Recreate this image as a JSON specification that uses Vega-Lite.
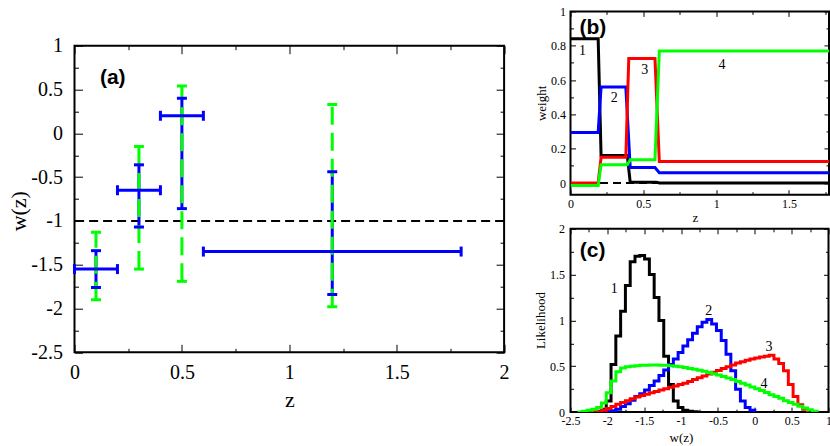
{
  "$schema": "https://vega.github.io/schema/vega-lite/v6.json",
  "background": "white",
  "padding": {"left": 6.5, "top": 4, "right": 0, "bottom": 0},
  "config": {
    "view": {"stroke": "black", "strokeWidth": 2},
    "axis": {
      "domain": false, "grid": false, "ticks": true,
      "tickColor": "black", "tickWidth": 1,
      "labelColor": "black", "titleColor": "black",
      "labelFont": "Liberation Serif", "titleFont": "Liberation Serif",
      "titleFontWeight": "normal", "labelFlush": false, "labelOverlap": false
    }
  },
  "datasets": {
    "errs": [
      {"z": 0.1, "zlo": 0, "zhi": 0.2, "w": -1.55, "blo": -1.76, "bhi": -1.34, "glo": -1.9, "ghi": -1.13},
      {"z": 0.3, "zlo": 0.2, "zhi": 0.4, "w": -0.65, "blo": -1.07, "bhi": -0.36, "glo": -1.55, "ghi": -0.15},
      {"z": 0.5, "zlo": 0.4, "zhi": 0.6, "w": 0.2, "blo": -0.86, "bhi": 0.4, "glo": -1.69, "ghi": 0.54},
      {"z": 1.2, "zlo": 0.6, "zhi": 1.8, "w": -1.35, "blo": -1.84, "bhi": -0.44, "glo": -1.98, "ghi": 0.33}
    ],
    "weights": [
      {"curve": "1", "z": 0, "weight": 0.84}, {"curve": "1", "z": 0.19, "weight": 0.84},
      {"curve": "1", "z": 0.21, "weight": 0.16}, {"curve": "1", "z": 0.39, "weight": 0.16},
      {"curve": "1", "z": 0.41, "weight": 0.005}, {"curve": "1", "z": 0.59, "weight": 0.005},
      {"curve": "1", "z": 0.61, "weight": 0}, {"curve": "1", "z": 1.8, "weight": 0},
      {"curve": "2", "z": 0, "weight": 0.295}, {"curve": "2", "z": 0.19, "weight": 0.295},
      {"curve": "2", "z": 0.21, "weight": 0.56}, {"curve": "2", "z": 0.38, "weight": 0.56},
      {"curve": "2", "z": 0.41, "weight": 0.09}, {"curve": "2", "z": 0.58, "weight": 0.09},
      {"curve": "2", "z": 0.61, "weight": 0.06}, {"curve": "2", "z": 1.8, "weight": 0.06},
      {"curve": "3", "z": 0, "weight": 0}, {"curve": "3", "z": 0.19, "weight": 0},
      {"curve": "3", "z": 0.21, "weight": 0.15}, {"curve": "3", "z": 0.38, "weight": 0.15},
      {"curve": "3", "z": 0.4, "weight": 0.725}, {"curve": "3", "z": 0.58, "weight": 0.725},
      {"curve": "3", "z": 0.61, "weight": 0.125}, {"curve": "3", "z": 1.8, "weight": 0.125},
      {"curve": "4", "z": 0, "weight": -0.015}, {"curve": "4", "z": 0.19, "weight": -0.015},
      {"curve": "4", "z": 0.21, "weight": 0.107}, {"curve": "4", "z": 0.39, "weight": 0.107},
      {"curve": "4", "z": 0.41, "weight": 0.135}, {"curve": "4", "z": 0.58, "weight": 0.135},
      {"curve": "4", "z": 0.61, "weight": 0.77}, {"curve": "4", "z": 1.8, "weight": 0.77}
    ],
    "hist": [
      {"curve": "1", "w": -2.21, "L": 0}, {"curve": "1", "w": -2.145, "L": 0.01}, {"curve": "1", "w": -2.08, "L": 0.03},
      {"curve": "1", "w": -2.015, "L": 0.12}, {"curve": "1", "w": -1.95, "L": 0.52}, {"curve": "1", "w": -1.885, "L": 0.83},
      {"curve": "1", "w": -1.82, "L": 1.1}, {"curve": "1", "w": -1.755, "L": 1.38}, {"curve": "1", "w": -1.69, "L": 1.64},
      {"curve": "1", "w": -1.625, "L": 1.7}, {"curve": "1", "w": -1.56, "L": 1.71}, {"curve": "1", "w": -1.495, "L": 1.67},
      {"curve": "1", "w": -1.43, "L": 1.5}, {"curve": "1", "w": -1.365, "L": 1.25}, {"curve": "1", "w": -1.3, "L": 1.0},
      {"curve": "1", "w": -1.235, "L": 0.61}, {"curve": "1", "w": -1.17, "L": 0.3}, {"curve": "1", "w": -1.105, "L": 0.12},
      {"curve": "1", "w": -1.04, "L": 0.05}, {"curve": "1", "w": -0.975, "L": 0.02}, {"curve": "1", "w": -0.91, "L": 0.01},
      {"curve": "1", "w": -0.845, "L": 0.005}, {"curve": "1", "w": -0.78, "L": 0},
      {"curve": "2", "w": -2.08, "L": 0}, {"curve": "2", "w": -2.015, "L": 0.005}, {"curve": "2", "w": -1.95, "L": 0.015},
      {"curve": "2", "w": -1.885, "L": 0.03}, {"curve": "2", "w": -1.82, "L": 0.06}, {"curve": "2", "w": -1.755, "L": 0.09},
      {"curve": "2", "w": -1.69, "L": 0.13}, {"curve": "2", "w": -1.625, "L": 0.17}, {"curve": "2", "w": -1.56, "L": 0.2},
      {"curve": "2", "w": -1.495, "L": 0.24}, {"curve": "2", "w": -1.43, "L": 0.29}, {"curve": "2", "w": -1.365, "L": 0.34},
      {"curve": "2", "w": -1.3, "L": 0.4}, {"curve": "2", "w": -1.235, "L": 0.46}, {"curve": "2", "w": -1.17, "L": 0.52},
      {"curve": "2", "w": -1.105, "L": 0.58}, {"curve": "2", "w": -1.04, "L": 0.65}, {"curve": "2", "w": -0.975, "L": 0.72},
      {"curve": "2", "w": -0.91, "L": 0.79}, {"curve": "2", "w": -0.845, "L": 0.86}, {"curve": "2", "w": -0.78, "L": 0.93},
      {"curve": "2", "w": -0.715, "L": 0.98}, {"curve": "2", "w": -0.65, "L": 1.01}, {"curve": "2", "w": -0.585, "L": 0.96},
      {"curve": "2", "w": -0.52, "L": 0.89}, {"curve": "2", "w": -0.455, "L": 0.78}, {"curve": "2", "w": -0.39, "L": 0.63},
      {"curve": "2", "w": -0.325, "L": 0.45}, {"curve": "2", "w": -0.26, "L": 0.25}, {"curve": "2", "w": -0.195, "L": 0.12},
      {"curve": "2", "w": -0.13, "L": 0.05}, {"curve": "2", "w": -0.065, "L": 0.02}, {"curve": "2", "w": 0, "L": 0},
      {"curve": "3", "w": -2.21, "L": 0}, {"curve": "3", "w": -2.145, "L": 0.005}, {"curve": "3", "w": -2.08, "L": 0.02},
      {"curve": "3", "w": -2.015, "L": 0.04}, {"curve": "3", "w": -1.95, "L": 0.06}, {"curve": "3", "w": -1.885, "L": 0.085},
      {"curve": "3", "w": -1.82, "L": 0.105}, {"curve": "3", "w": -1.755, "L": 0.125}, {"curve": "3", "w": -1.69, "L": 0.145},
      {"curve": "3", "w": -1.625, "L": 0.165}, {"curve": "3", "w": -1.56, "L": 0.18}, {"curve": "3", "w": -1.495, "L": 0.195},
      {"curve": "3", "w": -1.43, "L": 0.21}, {"curve": "3", "w": -1.365, "L": 0.225}, {"curve": "3", "w": -1.3, "L": 0.24},
      {"curve": "3", "w": -1.235, "L": 0.255}, {"curve": "3", "w": -1.17, "L": 0.27}, {"curve": "3", "w": -1.105, "L": 0.285},
      {"curve": "3", "w": -1.04, "L": 0.3}, {"curve": "3", "w": -0.975, "L": 0.315}, {"curve": "3", "w": -0.91, "L": 0.335},
      {"curve": "3", "w": -0.845, "L": 0.355}, {"curve": "3", "w": -0.78, "L": 0.375}, {"curve": "3", "w": -0.715, "L": 0.395},
      {"curve": "3", "w": -0.65, "L": 0.415}, {"curve": "3", "w": -0.585, "L": 0.435}, {"curve": "3", "w": -0.52, "L": 0.455},
      {"curve": "3", "w": -0.455, "L": 0.475}, {"curve": "3", "w": -0.39, "L": 0.495}, {"curve": "3", "w": -0.325, "L": 0.515},
      {"curve": "3", "w": -0.26, "L": 0.535}, {"curve": "3", "w": -0.195, "L": 0.55}, {"curve": "3", "w": -0.13, "L": 0.565},
      {"curve": "3", "w": -0.065, "L": 0.58}, {"curve": "3", "w": 0, "L": 0.59}, {"curve": "3", "w": 0.065, "L": 0.6},
      {"curve": "3", "w": 0.13, "L": 0.61}, {"curve": "3", "w": 0.195, "L": 0.62}, {"curve": "3", "w": 0.26, "L": 0.58},
      {"curve": "3", "w": 0.325, "L": 0.53}, {"curve": "3", "w": 0.39, "L": 0.45}, {"curve": "3", "w": 0.455, "L": 0.3},
      {"curve": "3", "w": 0.52, "L": 0.17}, {"curve": "3", "w": 0.585, "L": 0.08}, {"curve": "3", "w": 0.65, "L": 0.03},
      {"curve": "3", "w": 0.715, "L": 0},
      {"curve": "4", "w": -2.405, "L": 0}, {"curve": "4", "w": -2.34, "L": 0.01}, {"curve": "4", "w": -2.275, "L": 0.02},
      {"curve": "4", "w": -2.21, "L": 0.03}, {"curve": "4", "w": -2.145, "L": 0.05}, {"curve": "4", "w": -2.08, "L": 0.1},
      {"curve": "4", "w": -2.015, "L": 0.21}, {"curve": "4", "w": -1.95, "L": 0.34}, {"curve": "4", "w": -1.885, "L": 0.44},
      {"curve": "4", "w": -1.82, "L": 0.48}, {"curve": "4", "w": -1.755, "L": 0.495}, {"curve": "4", "w": -1.69, "L": 0.5},
      {"curve": "4", "w": -1.625, "L": 0.505}, {"curve": "4", "w": -1.56, "L": 0.51}, {"curve": "4", "w": -1.495, "L": 0.512},
      {"curve": "4", "w": -1.43, "L": 0.513}, {"curve": "4", "w": -1.365, "L": 0.513}, {"curve": "4", "w": -1.3, "L": 0.512},
      {"curve": "4", "w": -1.235, "L": 0.51}, {"curve": "4", "w": -1.17, "L": 0.506}, {"curve": "4", "w": -1.105, "L": 0.5},
      {"curve": "4", "w": -1.04, "L": 0.494}, {"curve": "4", "w": -0.975, "L": 0.486}, {"curve": "4", "w": -0.91, "L": 0.477},
      {"curve": "4", "w": -0.845, "L": 0.467}, {"curve": "4", "w": -0.78, "L": 0.456}, {"curve": "4", "w": -0.715, "L": 0.445},
      {"curve": "4", "w": -0.65, "L": 0.432}, {"curve": "4", "w": -0.585, "L": 0.418}, {"curve": "4", "w": -0.52, "L": 0.404},
      {"curve": "4", "w": -0.455, "L": 0.389}, {"curve": "4", "w": -0.39, "L": 0.373}, {"curve": "4", "w": -0.325, "L": 0.356},
      {"curve": "4", "w": -0.26, "L": 0.335}, {"curve": "4", "w": -0.195, "L": 0.315}, {"curve": "4", "w": -0.13, "L": 0.295},
      {"curve": "4", "w": -0.065, "L": 0.275}, {"curve": "4", "w": 0, "L": 0.255}, {"curve": "4", "w": 0.065, "L": 0.235},
      {"curve": "4", "w": 0.13, "L": 0.215}, {"curve": "4", "w": 0.195, "L": 0.19}, {"curve": "4", "w": 0.26, "L": 0.17},
      {"curve": "4", "w": 0.325, "L": 0.15}, {"curve": "4", "w": 0.39, "L": 0.125}, {"curve": "4", "w": 0.455, "L": 0.105},
      {"curve": "4", "w": 0.52, "L": 0.085}, {"curve": "4", "w": 0.585, "L": 0.065}, {"curve": "4", "w": 0.65, "L": 0.045},
      {"curve": "4", "w": 0.715, "L": 0.025}, {"curve": "4", "w": 0.78, "L": 0.01}, {"curve": "4", "w": 0.845, "L": 0}
    ]
  },
  "spacing": 23,
  "center": true,
  "hconcat": [
    {
      "width": 429.6, "height": 306.6,
      "resolve": {"axis": {"x": "independent", "y": "independent"}},
      "layer": [
        {
          "data": {"values": [{"w": -1}]},
          "mark": {"type": "rule", "color": "black", "strokeWidth": 2, "strokeDash": [9, 5]},
          "encoding": {
            "y": {"field": "w", "type": "quantitative", "scale": {"domain": [-2.5, 1], "nice": false, "zero": false}, "axis": null}
          }
        },
        {
          "data": {"name": "errs"},
          "mark": {"type": "rule", "color": "#0000ff", "strokeWidth": 3},
          "encoding": {
            "x": {"field": "z", "type": "quantitative", "scale": {"domain": [0, 2], "nice": false, "zero": false},
                  "axis": {"orient": "top", "values": [0, 0.5, 1, 1.5, 2], "tickSize": -8, "labels": false, "title": null}},
            "y": {"field": "blo", "type": "quantitative", "scale": {"domain": [-2.5, 1], "nice": false, "zero": false},
                  "axis": {"orient": "right", "values": [-2.5, -2, -1.5, -1, -0.5, 0, 0.5, 1], "tickSize": -8, "labels": false, "title": null}},
            "y2": {"field": "bhi"}
          }
        },
        {
          "data": {"name": "errs"},
          "mark": {"type": "rule", "color": "#00ff00", "strokeWidth": 3, "strokeDash": [18, 8]},
          "encoding": {
            "x": {"field": "z", "type": "quantitative", "scale": {"domain": [0, 2], "nice": false, "zero": false},
                  "axis": {"orient": "bottom", "values": [0.25, 0.75, 1.25, 1.75], "tickSize": -4, "labels": false, "title": null}},
            "y": {"field": "glo", "type": "quantitative", "scale": {"domain": [-2.5, 1], "nice": false, "zero": false},
                  "axis": {"orient": "left", "values": [-2.25, -1.75, -1.25, -0.75, -0.25, 0.25, 0.75], "tickSize": -4, "labels": false, "title": null}},
            "y2": {"field": "ghi"}
          }
        },
        {
          "data": {"name": "errs"},
          "transform": [{"fold": ["glo", "ghi"], "as": ["end", "wc"]}],
          "mark": {"type": "tick", "orient": "horizontal", "color": "#00ff00", "size": 10, "thickness": 3, "opacity": 1},
          "encoding": {
            "x": {"field": "z", "type": "quantitative", "scale": {"domain": [0, 2], "nice": false, "zero": false},
                  "axis": {"orient": "top", "values": [0.25, 0.75, 1.25, 1.75], "tickSize": -4, "labels": false, "title": null}},
            "y": {"field": "wc", "type": "quantitative", "scale": {"domain": [-2.5, 1], "nice": false, "zero": false},
                  "axis": {"orient": "right", "values": [-2.25, -1.75, -1.25, -0.75, -0.25, 0.25, 0.75], "tickSize": -4, "labels": false, "title": null}}
          }
        },
        {
          "data": {"name": "errs"},
          "mark": {"type": "rule", "color": "#0000ff", "strokeWidth": 3},
          "encoding": {
            "x": {"field": "zlo", "type": "quantitative", "scale": {"domain": [0, 2], "nice": false, "zero": false},
                  "axis": {"orient": "bottom", "values": [0, 0.5, 1, 1.5, 2], "labelExpr": "datum.value + ''", "tickSize": -8, "labelPadding": 18, "labelFontSize": 20,
                           "title": "z", "titleFontSize": 22, "titleX": 214.8, "titleY": 47, "titleAlign": "center", "titleBaseline": "middle"}},
            "x2": {"field": "zhi"},
            "y": {"field": "w", "type": "quantitative", "scale": {"domain": [-2.5, 1], "nice": false, "zero": false},
                  "axis": {"orient": "left", "values": [-2.5, -2, -1.5, -1, -0.5, 0, 0.5, 1], "labelExpr": "datum.value + ''", "tickSize": -8, "labelPadding": 20, "labelFontSize": 20,
                           "title": "w(z)", "titleFontSize": 22, "titleAngle": -90, "titleX": -56, "titleY": 165, "titleAlign": "center", "titleBaseline": "middle"}}
          }
        },
        {
          "data": {"name": "errs"},
          "transform": [{"fold": ["zlo", "zhi"], "as": ["end", "zc"]}],
          "mark": {"type": "tick", "orient": "vertical", "color": "#0000ff", "size": 10, "thickness": 3, "opacity": 1},
          "encoding": {
            "x": {"field": "zc", "type": "quantitative", "scale": {"domain": [0, 2], "nice": false, "zero": false}, "axis": null},
            "y": {"field": "w", "type": "quantitative", "scale": {"domain": [-2.5, 1], "nice": false, "zero": false}, "axis": null}
          }
        },
        {
          "data": {"name": "errs"},
          "transform": [{"fold": ["blo", "bhi"], "as": ["end", "wc"]}],
          "mark": {"type": "tick", "orient": "horizontal", "color": "#0000ff", "size": 10, "thickness": 3, "opacity": 1},
          "encoding": {
            "x": {"field": "z", "type": "quantitative", "scale": {"domain": [0, 2], "nice": false, "zero": false}, "axis": null},
            "y": {"field": "wc", "type": "quantitative", "scale": {"domain": [-2.5, 1], "nice": false, "zero": false}, "axis": null}
          }
        },
        {
          "data": {"values": [{"tag": "(a)", "z": 0.178, "w": 0.631}]},
          "mark": {"type": "text", "font": "Liberation Sans", "fontWeight": "bold", "fontSize": 21, "color": "black", "align": "center", "baseline": "middle"},
          "encoding": {
            "x": {"field": "z", "type": "quantitative", "scale": {"domain": [0, 2], "nice": false, "zero": false}, "axis": null},
            "y": {"field": "w", "type": "quantitative", "scale": {"domain": [-2.5, 1], "nice": false, "zero": false}, "axis": null},
            "text": {"field": "tag"}
          }
        }
      ]
    },
    {
      "spacing": 33.4,
      "bounds": "flush",
      "vconcat": [
        {
          "width": 258.5, "height": 183.3,
          "resolve": {"axis": {"x": "independent", "y": "independent"}},
          "layer": [
            {
              "data": {"values": [{"weight": 0}]},
              "mark": {"type": "rule", "color": "black", "strokeWidth": 2, "strokeDash": [8, 5]},
              "encoding": {
                "y": {"field": "weight", "type": "quantitative", "scale": {"domain": [-0.068, 1], "nice": false, "zero": false}, "axis": null}
              }
            },
            {
              "data": {"name": "weights"},
              "mark": {"type": "line", "strokeWidth": 3, "clip": true},
              "encoding": {
                "x": {"field": "z", "type": "quantitative", "scale": {"domain": [0, 1.775], "nice": false, "zero": false},
                      "axis": {"orient": "bottom", "values": [0, 0.5, 1, 1.5], "labelExpr": "datum.value + ''", "tickSize": -5, "labelPadding": 9, "labelFontSize": 12,
                               "title": "z", "titleFontSize": 13, "titleX": 124.5, "titleY": 22.7, "titleAlign": "center", "titleBaseline": "middle"}},
                "y": {"field": "weight", "type": "quantitative", "scale": {"domain": [-0.068, 1], "nice": false, "zero": false},
                      "axis": {"orient": "left", "values": [0, 0.2, 0.4, 0.6, 0.8, 1], "labelExpr": "datum.value + ''", "tickSize": -5, "labelPadding": 10, "labelFontSize": 12,
                               "title": "weight", "titleFontSize": 13, "titleAngle": -90, "titleX": -29.5, "titleY": 91.5, "titleAlign": "center", "titleBaseline": "middle"}},
                "color": {"field": "curve", "type": "nominal", "scale": {"domain": ["1", "2", "3", "4"], "range": ["#000000", "#0000ff", "#ff0000", "#00ff00"]}, "legend": null}
              }
            },
            {
              "data": {"values": []},
              "mark": "point",
              "encoding": {
                "x": {"field": "z", "type": "quantitative", "scale": {"domain": [0, 1.775], "nice": false, "zero": false},
                      "axis": {"orient": "top", "values": [0, 0.5, 1, 1.5], "tickSize": -5, "labels": false, "title": null}},
                "y": {"field": "weight", "type": "quantitative", "scale": {"domain": [-0.068, 1], "nice": false, "zero": false},
                      "axis": {"orient": "right", "values": [0, 0.2, 0.4, 0.6, 0.8, 1], "tickSize": -5, "labels": false, "title": null}}
              }
            },
            {
              "data": {"values": []},
              "mark": "point",
              "encoding": {
                "x": {"field": "z", "type": "quantitative", "scale": {"domain": [0, 1.775], "nice": false, "zero": false},
                      "axis": {"orient": "bottom", "values": [0.25, 0.75, 1.25, 1.75], "tickSize": -3, "labels": false, "title": null}},
                "y": {"field": "weight", "type": "quantitative", "scale": {"domain": [-0.068, 1], "nice": false, "zero": false},
                      "axis": {"orient": "left", "values": [0.1, 0.3, 0.5, 0.7, 0.9], "tickSize": -3, "labels": false, "title": null}}
              }
            },
            {
              "data": {"values": []},
              "mark": "point",
              "encoding": {
                "x": {"field": "z", "type": "quantitative", "scale": {"domain": [0, 1.775], "nice": false, "zero": false},
                      "axis": {"orient": "top", "values": [0.25, 0.75, 1.25, 1.75], "tickSize": -3, "labels": false, "title": null}},
                "y": {"field": "weight", "type": "quantitative", "scale": {"domain": [-0.068, 1], "nice": false, "zero": false},
                      "axis": {"orient": "right", "values": [0.1, 0.3, 0.5, 0.7, 0.9], "tickSize": -3, "labels": false, "title": null}}
              }
            },
            {
              "data": {"values": [
                {"tag": "1", "z": 0.082, "weight": 0.767},
                {"tag": "2", "z": 0.3, "weight": 0.495},
                {"tag": "3", "z": 0.51, "weight": 0.66},
                {"tag": "4", "z": 1.04, "weight": 0.69}
              ]},
              "mark": {"type": "text", "font": "Liberation Serif", "fontSize": 14, "color": "black", "align": "center", "baseline": "middle"},
              "encoding": {
                "x": {"field": "z", "type": "quantitative", "scale": {"domain": [0, 1.775], "nice": false, "zero": false}, "axis": null},
                "y": {"field": "weight", "type": "quantitative", "scale": {"domain": [-0.068, 1], "nice": false, "zero": false}, "axis": null},
                "text": {"field": "tag"}
              }
            },
            {
              "data": {"values": [{"tag": "(b)", "z": 0.154, "weight": 0.905}]},
              "mark": {"type": "text", "font": "Liberation Sans", "fontWeight": "bold", "fontSize": 21, "color": "black", "align": "center", "baseline": "middle"},
              "encoding": {
                "x": {"field": "z", "type": "quantitative", "scale": {"domain": [0, 1.775], "nice": false, "zero": false}, "axis": null},
                "y": {"field": "weight", "type": "quantitative", "scale": {"domain": [-0.068, 1], "nice": false, "zero": false}, "axis": null},
                "text": {"field": "tag"}
              }
            }
          ]
        },
        {
          "width": 258, "height": 183.3,
          "resolve": {"axis": {"x": "independent", "y": "independent"}},
          "layer": [
            {
              "data": {"name": "hist"},
              "mark": {"type": "line", "strokeWidth": 3, "interpolate": "step-after", "clip": true},
              "encoding": {
                "x": {"field": "w", "type": "quantitative", "scale": {"domain": [-2.5, 1], "nice": false, "zero": false},
                      "axis": {"orient": "bottom", "values": [-2.5, -2, -1.5, -1, -0.5, 0, 0.5, 1], "labelExpr": "datum.value + ''", "tickSize": -5, "labelPadding": 8, "labelFontSize": 12,
                               "title": "w(z)", "titleFontSize": 13, "titleX": 110.5, "titleY": 25.5, "titleAlign": "center", "titleBaseline": "middle"}},
                "y": {"field": "L", "type": "quantitative", "scale": {"domain": [0, 2], "nice": false, "zero": false},
                      "axis": {"orient": "left", "values": [0, 0.5, 1, 1.5, 2], "labelExpr": "datum.value + ''", "tickSize": -5, "labelPadding": 11, "labelFontSize": 12,
                               "title": "Likelihood", "titleFontSize": 13, "titleAngle": -90, "titleX": -30, "titleY": 91.3, "titleAlign": "center", "titleBaseline": "middle"}},
                "color": {"field": "curve", "type": "nominal", "scale": {"domain": ["1", "2", "3", "4"], "range": ["#000000", "#0000ff", "#ff0000", "#00ff00"]}, "legend": null}
              }
            },
            {
              "data": {"values": []},
              "mark": "point",
              "encoding": {
                "x": {"field": "w", "type": "quantitative", "scale": {"domain": [-2.5, 1], "nice": false, "zero": false},
                      "axis": {"orient": "top", "values": [-2.5, -2, -1.5, -1, -0.5, 0, 0.5, 1], "tickSize": -5, "labels": false, "title": null}},
                "y": {"field": "L", "type": "quantitative", "scale": {"domain": [0, 2], "nice": false, "zero": false},
                      "axis": {"orient": "right", "values": [0, 0.5, 1, 1.5, 2], "tickSize": -5, "labels": false, "title": null}}
              }
            },
            {
              "data": {"values": []},
              "mark": "point",
              "encoding": {
                "x": {"field": "w", "type": "quantitative", "scale": {"domain": [-2.5, 1], "nice": false, "zero": false},
                      "axis": {"orient": "bottom", "values": [-2.25, -1.75, -1.25, -0.75, -0.25, 0.25, 0.75], "tickSize": -3, "labels": false, "title": null}},
                "y": {"field": "L", "type": "quantitative", "scale": {"domain": [0, 2], "nice": false, "zero": false},
                      "axis": {"orient": "left", "values": [0.25, 0.75, 1.25, 1.75], "tickSize": -3, "labels": false, "title": null}}
              }
            },
            {
              "data": {"values": []},
              "mark": "point",
              "encoding": {
                "x": {"field": "w", "type": "quantitative", "scale": {"domain": [-2.5, 1], "nice": false, "zero": false},
                      "axis": {"orient": "top", "values": [-2.25, -1.75, -1.25, -0.75, -0.25, 0.25, 0.75], "tickSize": -3, "labels": false, "title": null}},
                "y": {"field": "L", "type": "quantitative", "scale": {"domain": [0, 2], "nice": false, "zero": false},
                      "axis": {"orient": "right", "values": [0.25, 0.75, 1.25, 1.75], "tickSize": -3, "labels": false, "title": null}}
              }
            },
            {
              "data": {"values": [
                {"tag": "1", "w": -1.905, "L": 1.345},
                {"tag": "2", "w": -0.624, "L": 1.1},
                {"tag": "3", "w": 0.193, "L": 0.71},
                {"tag": "4", "w": 0.125, "L": 0.31}
              ]},
              "mark": {"type": "text", "font": "Liberation Serif", "fontSize": 14, "color": "black", "align": "center", "baseline": "middle"},
              "encoding": {
                "x": {"field": "w", "type": "quantitative", "scale": {"domain": [-2.5, 1], "nice": false, "zero": false}, "axis": null},
                "y": {"field": "L", "type": "quantitative", "scale": {"domain": [0, 2], "nice": false, "zero": false}, "axis": null},
                "text": {"field": "tag"}
              }
            },
            {
              "data": {"values": [{"tag": "(c)", "w": -2.2, "L": 1.762}]},
              "mark": {"type": "text", "font": "Liberation Sans", "fontWeight": "bold", "fontSize": 21, "color": "black", "align": "center", "baseline": "middle"},
              "encoding": {
                "x": {"field": "w", "type": "quantitative", "scale": {"domain": [-2.5, 1], "nice": false, "zero": false}, "axis": null},
                "y": {"field": "L", "type": "quantitative", "scale": {"domain": [0, 2], "nice": false, "zero": false}, "axis": null},
                "text": {"field": "tag"}
              }
            }
          ]
        }
      ]
    }
  ]
}
